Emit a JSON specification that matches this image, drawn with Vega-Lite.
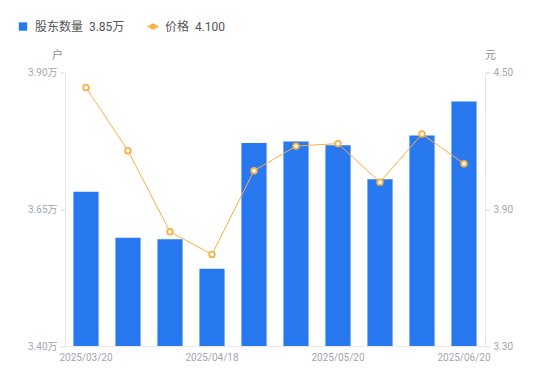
{
  "$schema": "https://vega.github.io/schema/vega-lite/v6.json",
  "width": 420,
  "height": 273.5,
  "autosize": {"type": "none"},
  "padding": {"left": 65, "top": 72.5, "right": 65, "bottom": 35},
  "config": {
    "view": {"stroke": null},
    "font": "Roboto, Noto Sans CJK SC",
    "axis": {"labelFont": "Roboto, Noto Sans CJK SC", "titleFont": "Noto Sans CJK SC"},
    "legend": {"labelFont": "Roboto, Noto Sans CJK SC"}
  },
  "data": {
    "values": [
      {"date": "2025/03/20", "holders": 3.682, "price": 4.434},
      {"date": "2025/03/31", "holders": 3.598, "price": 4.157},
      {"date": "2025/04/10", "holders": 3.595, "price": 3.801},
      {"date": "2025/04/18", "holders": 3.541, "price": 3.702},
      {"date": "2025/04/30", "holders": 3.771, "price": 4.069},
      {"date": "2025/05/09", "holders": 3.774, "price": 4.177},
      {"date": "2025/05/20", "holders": 3.767, "price": 4.188},
      {"date": "2025/05/30", "holders": 3.705, "price": 4.019},
      {"date": "2025/06/10", "holders": 3.785, "price": 4.230},
      {"date": "2025/06/20", "holders": 3.847, "price": 4.100}
    ]
  },
  "encoding": {
    "x": {
      "field": "date",
      "type": "ordinal",
      "sort": null,
      "scale": {"paddingInner": 0.4, "paddingOuter": 0.2},
      "axis": {
        "values": ["2025/03/20", "2025/04/18", "2025/05/20", "2025/06/20"],
        "labelAngle": 0,
        "ticks": false,
        "domainColor": "#e8e8e8",
        "labelColor": "#a3a7b0",
        "labelFontSize": 10,
        "labelPadding": 6,
        "title": null
      }
    }
  },
  "layer": [
    {
      "mark": {"type": "bar"},
      "encoding": {
        "y": {
          "field": "holders",
          "type": "quantitative",
          "scale": {"domain": [3.4, 3.9], "zero": false, "nice": false},
          "axis": {
            "values": [3.4, 3.65, 3.9],
            "labelExpr": "format(datum.value, '.2f') + '万'",
            "grid": false,
            "domainColor": "#e8e8e8",
            "tickColor": "#d8d8d8",
            "tickSize": 5,
            "labelColor": "#a3a7b0",
            "labelFontSize": 10,
            "labelPadding": 3,
            "title": "户",
            "titleAngle": 0,
            "titleColor": "#8a8f99",
            "titleFontSize": 11,
            "titleFontWeight": "normal",
            "titleX": -8,
            "titleY": -12,
            "titleAlign": "center"
          }
        },
        "y2": {"datum": 3.4},
        "color": {
          "datum": "股东数量",
          "scale": {"domain": ["股东数量", "价格"], "range": ["#2878F0", "#F9B040"]},
          "legend": {
            "title": null,
            "orient": "none",
            "legendX": -48,
            "legendY": -52,
            "direction": "horizontal",
            "columnPadding": 18,
            "labelFontSize": 12,
            "labelColor": "#555555",
            "labelOffset": 6,
            "labelExpr": "datum.label === '股东数量' ? '股东数量\u00a0\u00a03.85万' : '价格\u00a0\u00a04.100'",
            "encode": {
              "symbols": {
                "update": {
                  "shape": {"signal": "datum.value === '价格' ? 'M -1 0 L -0.4 0 M 0.4 0 L 1 0 M 0.4 0 A 0.4 0.4 0 1 1 -0.4 0 A 0.4 0.4 0 1 1 0.4 0' : 'square'"},
                  "size": {"signal": "datum.value === '价格' ? 120 : 70"},
                  "fill": {"signal": "datum.value === '价格' ? '#ffffff' : '#2878F0'"},
                  "stroke": {"signal": "datum.value === '价格' ? '#F9B040' : '#2878F0'"},
                  "strokeWidth": {"signal": "datum.value === '价格' ? 1.8 : 0"},
                  "opacity": {"value": 1}
                }
              }
            }
          }
        }
      }
    },
    {
      "encoding": {
        "y": {
          "field": "price",
          "type": "quantitative",
          "scale": {"domain": [3.3, 4.5], "zero": false, "nice": false},
          "axis": {
            "orient": "right",
            "values": [3.3, 3.9, 4.5],
            "format": ".2f",
            "grid": false,
            "domainColor": "#e8e8e8",
            "tickColor": "#d8d8d8",
            "tickSize": 5,
            "labelColor": "#a3a7b0",
            "labelFontSize": 10,
            "labelPadding": 3,
            "title": "元",
            "titleAngle": 0,
            "titleColor": "#8a8f99",
            "titleFontSize": 11,
            "titleFontWeight": "normal",
            "titleX": 5,
            "titleY": -12,
            "titleAlign": "center"
          }
        },
        "color": {"datum": "价格"}
      },
      "layer": [
        {"mark": {"type": "line", "strokeWidth": 1}},
        {"mark": {"type": "point", "shape": "circle", "filled": false, "fill": "#ffffff", "strokeWidth": 1.8, "size": 32, "opacity": 1}}
      ]
    }
  ],
  "resolve": {"scale": {"y": "independent"}}
}
